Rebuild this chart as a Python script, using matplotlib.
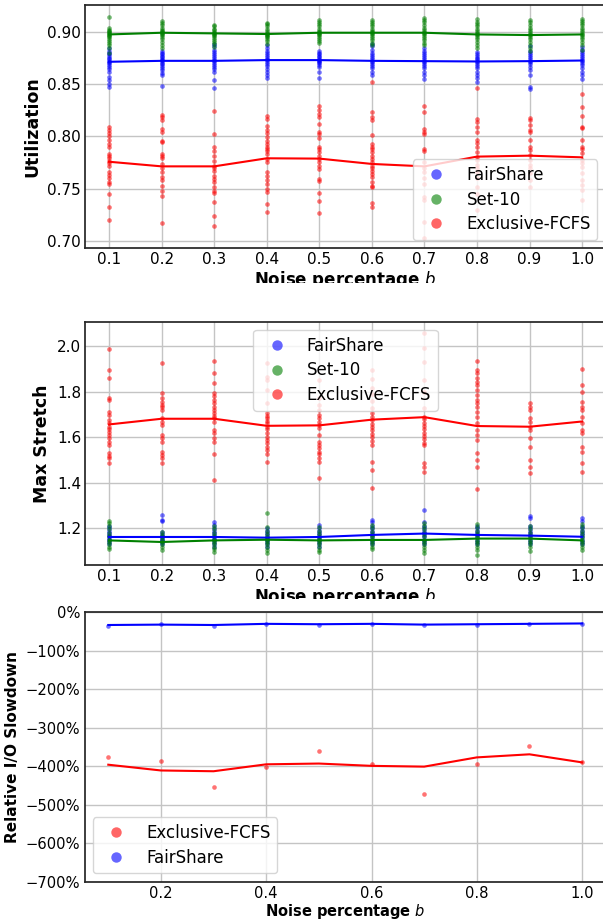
import matplotlib
matplotlib.use("Agg")
import matplotlib.pyplot as plt
from matplotlib.lines import Line2D
from matplotlib.ticker import PercentFormatter, MultipleLocator
from matplotlib.transforms import Bbox, TransformedBbox

# ---------------- data ----------------
noise = [0.1, 0.2, 0.3, 0.4, 0.5, 0.6, 0.7, 0.8, 0.9, 1.0]

# Panel 1: Utilization (scatter per noise level)
util_fair = [
    [0.884, 0.882, 0.880, 0.879, 0.877, 0.875, 0.874, 0.872, 0.871, 0.870, 0.868, 0.866, 0.864, 0.862, 0.857, 0.854, 0.850, 0.847],
    [0.882, 0.880, 0.879, 0.877, 0.876, 0.874, 0.873, 0.872, 0.870, 0.869, 0.867, 0.865, 0.863, 0.861, 0.8585, 0.848],
    [0.8886, 0.886, 0.883, 0.881, 0.879, 0.877, 0.875, 0.873, 0.872, 0.870, 0.868, 0.866, 0.864, 0.862, 0.8538, 0.846],
    [0.887, 0.884, 0.882, 0.880, 0.878, 0.876, 0.874, 0.873, 0.871, 0.869, 0.867, 0.864, 0.862, 0.859, 0.856],
    [0.882, 0.880, 0.879, 0.877, 0.876, 0.874, 0.873, 0.872, 0.871, 0.870, 0.868, 0.8665, 0.862, 0.8554],
    [0.8886, 0.886, 0.883, 0.880, 0.878, 0.876, 0.874, 0.872, 0.871, 0.869, 0.867, 0.865, 0.862, 0.8585],
    [0.884, 0.882, 0.880, 0.878, 0.876, 0.874, 0.872, 0.871, 0.869, 0.867, 0.865, 0.862, 0.859, 0.8547],
    [0.8807, 0.879, 0.877, 0.875, 0.874, 0.872, 0.871, 0.869, 0.867, 0.865, 0.862, 0.859, 0.856, 0.852],
    [0.886, 0.882, 0.880, 0.878, 0.876, 0.874, 0.872, 0.871, 0.869, 0.866, 0.863, 0.859, 0.847, 0.845],
    [0.8856, 0.883, 0.881, 0.879, 0.877, 0.875, 0.873, 0.872, 0.870, 0.868, 0.865, 0.862, 0.859, 0.8553],
]
util_set10 = [
    [0.914, 0.9035, 0.902, 0.901, 0.900, 0.899, 0.898, 0.897, 0.896, 0.895, 0.893, 0.891, 0.889, 0.887, 0.884, 0.880],
    [0.9098, 0.908, 0.906, 0.904, 0.902, 0.901, 0.900, 0.899, 0.898, 0.897, 0.895, 0.893, 0.890, 0.887, 0.884],
    [0.9066, 0.905, 0.903, 0.902, 0.900, 0.899, 0.898, 0.897, 0.896, 0.894, 0.892, 0.890, 0.888, 0.8854],
    [0.9085, 0.907, 0.905, 0.903, 0.901, 0.899, 0.898, 0.897, 0.896, 0.895, 0.893, 0.891, 0.8886],
    [0.911, 0.909, 0.907, 0.905, 0.903, 0.901, 0.900, 0.899, 0.898, 0.897, 0.895, 0.893, 0.891, 0.8896],
    [0.911, 0.909, 0.907, 0.905, 0.903, 0.901, 0.900, 0.899, 0.898, 0.896, 0.894, 0.892, 0.889, 0.887],
    [0.913, 0.911, 0.909, 0.906, 0.904, 0.902, 0.900, 0.899, 0.898, 0.896, 0.894, 0.892, 0.889, 0.887],
    [0.9117, 0.909, 0.907, 0.905, 0.903, 0.901, 0.899, 0.898, 0.897, 0.895, 0.893, 0.890, 0.887, 0.884],
    [0.911, 0.909, 0.906, 0.904, 0.902, 0.900, 0.898, 0.897, 0.895, 0.893, 0.890, 0.887, 0.884, 0.882],
    [0.9125, 0.910, 0.908, 0.906, 0.904, 0.902, 0.900, 0.898, 0.897, 0.895, 0.893, 0.890, 0.887, 0.883],
]
util_excl = [
    [0.809, 0.806, 0.803, 0.800, 0.797, 0.793, 0.790, 0.783, 0.781, 0.779, 0.777, 0.775, 0.772, 0.766, 0.763, 0.760, 0.757, 0.755, 0.745, 0.733, 0.720],
    [0.8207, 0.8185, 0.816, 0.8073, 0.8045, 0.796, 0.795, 0.783, 0.7815, 0.779, 0.7735, 0.770, 0.766, 0.761, 0.7586, 0.753, 0.748, 0.743, 0.717],
    [0.8242, 0.8025, 0.7898, 0.7866, 0.7818, 0.777, 0.7723, 0.770, 0.7675, 0.7627, 0.7596, 0.7564, 0.7522, 0.7484, 0.7459, 0.7373, 0.7245, 0.715],
    [0.8191, 0.8169, 0.8096, 0.8064, 0.8032, 0.7994, 0.7955, 0.793, 0.7904, 0.7882, 0.7857, 0.7834, 0.7787, 0.7755, 0.7659, 0.7627, 0.7586, 0.7548, 0.750, 0.7475, 0.7357, 0.7283],
    [0.8287, 0.8255, 0.8217, 0.8185, 0.8115, 0.8041, 0.8025, 0.7987, 0.7898, 0.7882, 0.785, 0.7818, 0.7787, 0.7755, 0.7723, 0.7691, 0.7596, 0.758, 0.7459, 0.7382, 0.727],
    [0.852, 0.8232, 0.8185, 0.816, 0.801, 0.793, 0.7904, 0.7882, 0.785, 0.7818, 0.7787, 0.7755, 0.7723, 0.770, 0.7675, 0.7643, 0.7611, 0.7564, 0.7532, 0.7516, 0.737, 0.7325],
    [0.829, 0.8235, 0.8073, 0.8041, 0.8025, 0.788, 0.7866, 0.7755, 0.770, 0.766, 0.760, 0.755, 0.742, 0.739, 0.718, 0.703],
    [0.846, 0.8167, 0.8141, 0.8094, 0.8046, 0.7967, 0.7935, 0.7903, 0.7856, 0.7808, 0.7776, 0.7728, 0.7696, 0.7665, 0.760, 0.752, 0.745, 0.730],
    [0.8179, 0.8157, 0.8109, 0.8062, 0.8046, 0.7967, 0.7903, 0.7871, 0.7824, 0.7776, 0.7728, 0.7696, 0.7649, 0.7585, 0.7522],
    [0.8405, 0.8278, 0.8196, 0.8094, 0.8078, 0.7967, 0.7903, 0.7878, 0.784, 0.7776, 0.7744, 0.7712, 0.7649, 0.7585, 0.7537, 0.749, 0.7394],
]
util_fair_mean = [0.8713, 0.8722, 0.8722, 0.8729, 0.8729, 0.8722, 0.8719, 0.8716, 0.8719, 0.8725]
util_set10_mean = [0.8974, 0.8990, 0.8984, 0.8978, 0.8990, 0.8990, 0.8990, 0.8974, 0.8968, 0.8974]
util_excl_mean = [0.7759, 0.7715, 0.7715, 0.7792, 0.7789, 0.7738, 0.7715, 0.7808, 0.7817, 0.7801]

# Panel 2: Max Stretch
ms_fair = [
    [1.21, 1.20, 1.19, 1.18, 1.17, 1.165, 1.16, 1.155, 1.15, 1.14, 1.13],
    [1.258, 1.237, 1.230, 1.185, 1.175, 1.165, 1.16, 1.155, 1.15, 1.145, 1.14, 1.13],
    [1.229, 1.215, 1.20, 1.19, 1.18, 1.17, 1.16, 1.155, 1.15, 1.14, 1.13, 1.12],
    [1.20, 1.19, 1.18, 1.17, 1.16, 1.155, 1.15, 1.14, 1.13, 1.12],
    [1.215, 1.20, 1.19, 1.18, 1.17, 1.16, 1.155, 1.15, 1.14, 1.13, 1.12],
    [1.236, 1.229, 1.21, 1.20, 1.19, 1.18, 1.17, 1.16, 1.15, 1.14, 1.13],
    [1.28, 1.229, 1.21, 1.20, 1.19, 1.18, 1.17, 1.16, 1.15, 1.14, 1.13],
    [1.21, 1.20, 1.19, 1.18, 1.17, 1.16, 1.15, 1.14, 1.13],
    [1.254, 1.244, 1.21, 1.20, 1.19, 1.18, 1.17, 1.16, 1.15, 1.14, 1.13],
    [1.244, 1.23, 1.21, 1.20, 1.19, 1.18, 1.17, 1.16, 1.15, 1.14, 1.13],
]
ms_set10 = [
    [1.234, 1.225, 1.21, 1.195, 1.18, 1.165, 1.15, 1.14, 1.13, 1.12, 1.108],
    [1.185, 1.17, 1.16, 1.15, 1.14, 1.13, 1.12, 1.105],
    [1.21, 1.195, 1.18, 1.165, 1.15, 1.14, 1.13, 1.12, 1.11, 1.098],
    [1.266, 1.205, 1.19, 1.175, 1.16, 1.15, 1.14, 1.13, 1.12, 1.105, 1.09],
    [1.205, 1.19, 1.175, 1.16, 1.15, 1.14, 1.13, 1.12, 1.105, 1.095],
    [1.215, 1.20, 1.185, 1.17, 1.16, 1.15, 1.14, 1.13, 1.12, 1.11],
    [1.225, 1.21, 1.195, 1.18, 1.165, 1.15, 1.14, 1.13, 1.12, 1.105, 1.09],
    [1.22, 1.205, 1.19, 1.175, 1.16, 1.15, 1.14, 1.13, 1.12, 1.105, 1.083],
    [1.21, 1.195, 1.18, 1.165, 1.15, 1.14, 1.13, 1.12, 1.10],
    [1.22, 1.205, 1.19, 1.175, 1.16, 1.15, 1.14, 1.13, 1.12, 1.105],
]
ms_excl = [
    [1.987, 1.895, 1.861, 1.770, 1.763, 1.712, 1.697, 1.675, 1.661, 1.646, 1.635, 1.624, 1.610, 1.595, 1.580, 1.566, 1.529, 1.518, 1.507, 1.485],
    [1.927, 1.795, 1.770, 1.756, 1.741, 1.731, 1.719, 1.683, 1.668, 1.654, 1.610, 1.595, 1.580, 1.537, 1.522, 1.507, 1.485],
    [1.936, 1.880, 1.839, 1.792, 1.781, 1.763, 1.749, 1.734, 1.719, 1.705, 1.693, 1.683, 1.668, 1.632, 1.617, 1.595, 1.580, 1.526, 1.412],
    [1.924, 1.865, 1.850, 1.807, 1.750, 1.705, 1.693, 1.683, 1.672, 1.661, 1.646, 1.635, 1.617, 1.603, 1.588, 1.573, 1.558, 1.544, 1.525, 1.493],
    [1.850, 1.770, 1.741, 1.719, 1.697, 1.683, 1.668, 1.654, 1.639, 1.610, 1.580, 1.566, 1.551, 1.537, 1.526, 1.507, 1.493, 1.420],
    [1.895, 1.854, 1.815, 1.790, 1.760, 1.727, 1.705, 1.690, 1.675, 1.660, 1.645, 1.630, 1.615, 1.600, 1.585, 1.566, 1.490, 1.456, 1.376],
    [2.058, 1.990, 1.928, 1.851, 1.800, 1.727, 1.690, 1.678, 1.664, 1.649, 1.635, 1.620, 1.605, 1.591, 1.576, 1.565, 1.488, 1.471, 1.449],
    [1.934, 1.895, 1.880, 1.858, 1.844, 1.829, 1.807, 1.785, 1.763, 1.749, 1.734, 1.712, 1.690, 1.661, 1.632, 1.610, 1.588, 1.529, 1.500, 1.471, 1.371],
    [1.748, 1.734, 1.719, 1.683, 1.668, 1.646, 1.631, 1.595, 1.558, 1.500, 1.471, 1.441],
    [1.898, 1.829, 1.800, 1.756, 1.734, 1.719, 1.690, 1.661, 1.631, 1.617, 1.558, 1.536, 1.485, 1.449],
]
ms_fair_mean = [1.162, 1.162, 1.162, 1.159, 1.162, 1.171, 1.177, 1.171, 1.168, 1.163]
ms_set10_mean = [1.147, 1.140, 1.147, 1.150, 1.147, 1.149, 1.149, 1.155, 1.155, 1.147]
ms_excl_mean = [1.656, 1.681, 1.681, 1.650, 1.652, 1.677, 1.688, 1.649, 1.646, 1.669]

# Panel 3: Relative I/O slowdown (%)
io_excl_pts = [-377, -387, -455, -403, -361, -393, -472, -393, -348, -390]
io_fair_pts = [-35, -31, -35, -30, -32, -30, -34, -32, -30, -30]
io_excl_mean = [-396, -411, -413, -395, -393, -399, -401, -377, -369, -390]
io_fair_mean = [-33, -32, -33, -30, -31, -30, -32, -31, -30, -29]

# ---------------- style ----------------
plt.rcParams['font.family'] = ['DejaVu Sans']
C_BLUE, C_GREEN, C_RED = 'blue', 'green', 'red'
PT_ALPHA = 0.55
PT_SIZE = 11

W, H = 603, 923
fig = plt.figure(figsize=(W / 100, H / 100), dpi=100)


def axes_px(left, top, right, bottom):
    return fig.add_axes([left / W, 1 - bottom / H, (right - left) / W, (bottom - top) / H])


def style(ax, tick_fs):
    ax.set_facecolor('white')
    ax.grid(True, color='#c4c4c4', linewidth=1.0)
    ax.set_axisbelow(True)
    for s in ax.spines.values():
        s.set_color('#262626')
        s.set_linewidth(1.25)
    ax.spines['right'].set_visible(False)
    ax.tick_params(length=0, pad=3, labelsize=tick_fs)


def scatter_cols(ax, cols, color):
    for x, vals in zip(noise, cols):
        ax.scatter([x] * len(vals), vals, s=PT_SIZE, color=color, alpha=PT_ALPHA,
                   linewidths=0, zorder=2)


def handle(color, label):
    return Line2D([], [], marker='o', linestyle='none', markersize=7.5,
                  markerfacecolor=color, markeredgewidth=0, alpha=0.6, label=label)


def clip_label(ax, y_cut_px):
    bb = TransformedBbox(Bbox([[0, 1 - y_cut_px / H], [1, 1]]), fig.transFigure)
    ax.xaxis.label.set_clip_box(bb)
    ax.xaxis.label.set_clip_on(True)


XLIM = (0.055, 1.045)
LEG_KW = dict(fontsize=12, labelspacing=0.4)

# ---- Panel 1 ----
ax1 = axes_px(85.4, 5.3, 85.4 + 520.4, 248.3)
style(ax1, 11)
scatter_cols(ax1, util_fair, C_BLUE)
scatter_cols(ax1, util_set10, C_GREEN)
scatter_cols(ax1, util_excl, C_RED)
ax1.plot(noise, util_fair_mean, color=C_BLUE, lw=1.5, zorder=3)
ax1.plot(noise, util_set10_mean, color=C_GREEN, lw=1.5, zorder=3)
ax1.plot(noise, util_excl_mean, color=C_RED, lw=1.5, zorder=3)
ax1.set_xlim(*XLIM)
ax1.set_ylim(0.6933, 0.9252)
ax1.set_xticks(noise)
ax1.set_yticks([0.70, 0.75, 0.80, 0.85, 0.90])
ax1.set_yticklabels(['0.70', '0.75', '0.80', '0.85', '0.90'])
ax1.set_xlabel('Noise percentage $b$', fontsize=12, fontweight='bold', labelpad=1)
ax1.set_ylabel('Utilization', fontsize=12.5, fontweight='bold')
ax1.legend(handles=[handle(C_BLUE, 'FairShare'), handle(C_GREEN, 'Set-10'),
                    handle(C_RED, 'Exclusive-FCFS')], loc='lower right', **LEG_KW)
clip_label(ax1, 283)

# ---- Panel 2 ----
ax2 = axes_px(85.4, 321.7, 85.4 + 520.4, 565.0)
style(ax2, 11)
scatter_cols(ax2, ms_fair, C_BLUE)
scatter_cols(ax2, ms_set10, C_GREEN)
scatter_cols(ax2, ms_excl, C_RED)
ax2.plot(noise, ms_fair_mean, color=C_BLUE, lw=1.5, zorder=3)
ax2.plot(noise, ms_set10_mean, color=C_GREEN, lw=1.5, zorder=3)
ax2.plot(noise, ms_excl_mean, color=C_RED, lw=1.5, zorder=3)
ax2.set_xlim(*XLIM)
ax2.set_ylim(1.039, 2.107)
ax2.set_xticks(noise)
ax2.set_yticks([1.2, 1.4, 1.6, 1.8, 2.0])
ax2.set_xlabel('Noise percentage $b$', fontsize=12, fontweight='bold', labelpad=1)
ax2.set_ylabel('Max Stretch', fontsize=12.5, fontweight='bold')
ax2.legend(handles=[handle(C_BLUE, 'FairShare'), handle(C_GREEN, 'Set-10'),
                    handle(C_RED, 'Exclusive-FCFS')], loc='upper center', **LEG_KW)
clip_label(ax2, 599)

# ---- Panel 3 ----
ax3 = axes_px(84.6, 612.3, 84.6 + 521.2, 881.7)
style(ax3, 10.6)
ax3.scatter(noise, io_excl_pts, s=PT_SIZE, color=C_RED, alpha=PT_ALPHA, linewidths=0, zorder=2)
ax3.scatter(noise, io_fair_pts, s=PT_SIZE, color=C_BLUE, alpha=PT_ALPHA, linewidths=0, zorder=2)
ax3.plot(noise, io_excl_mean, color=C_RED, lw=1.5, zorder=3)
ax3.plot(noise, io_fair_mean, color=C_BLUE, lw=1.5, zorder=3)
ax3.set_xlim(*XLIM)
ax3.set_ylim(-700, 0)
ax3.yaxis.set_major_locator(MultipleLocator(100))
ax3.yaxis.set_major_formatter(PercentFormatter(xmax=100, decimals=0))
ax3.xaxis.set_major_locator(MultipleLocator(0.2))
ax3.set_xlabel('Noise percentage $b$', fontsize=10.5, fontweight='bold', labelpad=0.5)
ax3.set_ylabel('Relative I/O Slowdown', fontsize=11, fontweight='bold')
ax3.legend(handles=[handle(C_RED, 'Exclusive-FCFS'), handle(C_BLUE, 'FairShare')],
           loc='lower left', **LEG_KW)

fig.savefig('out.png', dpi=100, facecolor='white')
